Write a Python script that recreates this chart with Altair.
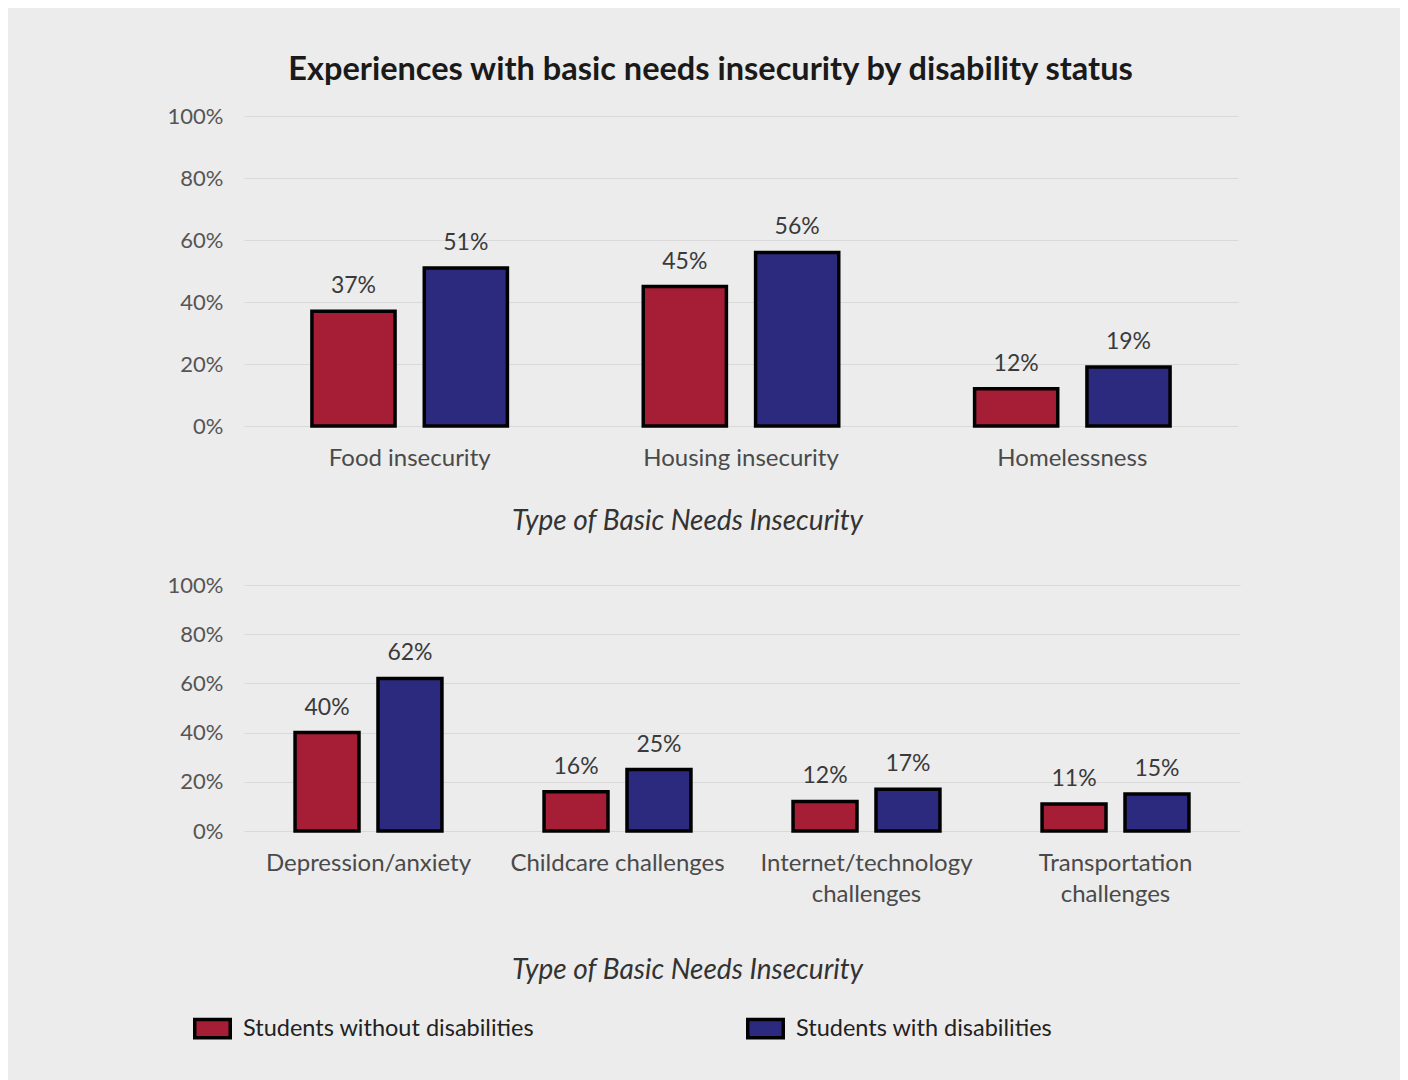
import altair as alt
import pandas as pd

groups = ["Students without disabilities", "Students with disabilities"]
colors = ["#a61d36", "#2c2a7e"]

top_cats = ["Food insecurity", "Housing insecurity", "Homelessness"]
top_without = [37, 45, 12]
top_with = [51, 56, 19]

bot_cats = ["Depression/anxiety", "Childcare challenges",
            "Internet/technology|challenges", "Transportation|challenges"]
bot_without = [40, 16, 12, 11]
bot_with = [62, 25, 17, 15]

title_text = "Experiences with basic needs insecurity by disability status"
x_title = "Type of Basic Needs Insecurity"
y_ticks = [0, 0.2, 0.4, 0.6, 0.8, 1.0]

FONT = "Lato"


def make_df(cats, without, with_):
    rows = []
    for c, a, b in zip(cats, without, with_):
        rows.append({"category": c, "group": groups[0], "value": a / 100})
        rows.append({"category": c, "group": groups[1], "value": b / 100})
    return pd.DataFrame(rows)


legend = alt.Legend(
    title=None, orient="none", direction="horizontal", legendX=-51, legendY=893,
    symbolType="M-1,-0.52L1,-0.52L1,0.52L-1,0.52Z", symbolSize=1260,
    symbolStrokeColor="black", symbolStrokeWidth=3.5, symbolOpacity=1,
    labelFont=FONT, labelFontSize=23.5, labelColor="#222222", labelOffset=11,
    columnPadding=205, labelLimit=400,
)


def panel(df, cats, width, height, pad_inner, off_pad, title_pad, leg):
    base = alt.Chart(df).encode(
        x=alt.X(
            "category:N", sort=cats,
            scale=alt.Scale(paddingInner=pad_inner, paddingOuter=pad_inner / 2),
            axis=alt.Axis(
                title=x_title, labelExpr="split(datum.label, '|')",
                labelAngle=0, labelFont=FONT, labelFontSize=24, labelColor="#4a4a4a",
                labelPadding=20, labelLineHeight=31, labelLimit=400,
                ticks=False, domain=False, tickSize=0,
                titleFont=FONT, titleFontSize=28, titleFontStyle="italic",
                titleFontWeight="normal", titleColor="#333333", titlePadding=title_pad,
                titleX=443, titleAlign="center",
            ),
        ),
        xOffset=alt.XOffset("group:N", sort=groups,
                            scale=alt.Scale(paddingInner=off_pad, paddingOuter=0)),
        y=alt.Y(
            "value:Q", scale=alt.Scale(domain=[0, 1], nice=False),
            axis=alt.Axis(
                title=None, values=y_ticks, format=".0%", grid=True,
                gridColor="#d9d9d9", gridWidth=1, ticks=False, tickSize=0, domain=False,
                labelFont=FONT, labelFontSize=22, labelColor="#555555", labelPadding=21,
            ),
        ),
    )
    bars = base.mark_bar(stroke="black", strokeWidth=3.5).encode(
        color=alt.Color("group:N", sort=groups,
                        scale=alt.Scale(domain=groups, range=colors), legend=leg)
    )
    text = base.mark_text(baseline="bottom", dy=-13, font=FONT, fontSize=23,
                          color="#3a3a3a").encode(
        text=alt.Text("value:Q", format=".0%")
    )
    return (bars + text).properties(width=width, height=height)


top = panel(make_df(top_cats, top_without, top_with), top_cats,
            994, 310, 0.41, 0.26, 37, legend)
bottom = panel(make_df(bot_cats, bot_without, bot_with), bot_cats,
               996, 246, 0.41, 0.229, 50, legend)

chart = alt.vconcat(top, bottom, spacing=39).resolve_scale(
    x="independent", xOffset="independent"
).properties(
    title=alt.Title(title_text, font=FONT, fontSize=32.5, fontWeight="bold",
                    color="#1a1a1a", anchor="middle", offset=19, dx=7),
    padding={"left": 159, "top": 45, "right": 160, "bottom": 42},
    background="#ececec",
).configure_view(stroke=None)

chart.save("out.html", embed_options={"renderer": "svg", "actions": False})
